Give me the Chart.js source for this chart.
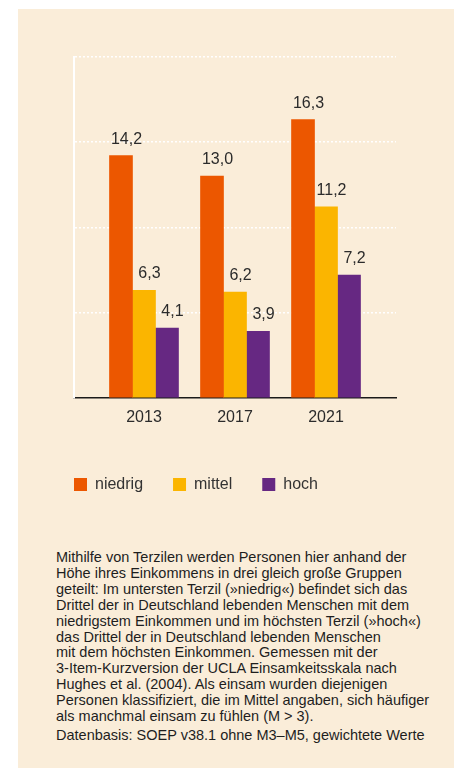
<!DOCTYPE html>
<html lang="de">
<head>
<meta charset="UTF-8">
<title>Einsamkeit nach Einkommensterzil</title>
<script src="https://cdn.jsdelivr.net/npm/chart.js"></script>
<style>
  html, body { margin: 0; padding: 0; background: #ffffff; }
  body { width: 454px; height: 768px; position: relative; overflow: hidden; font-family: "Liberation Sans", Arial, sans-serif; }
  #panel { position: absolute; left: 18px; top: 9px; right: 0; bottom: 0; background: #faedd9; }
  #wrap { position: absolute; left: 0; top: 0; width: 454px; height: 520px; }
  #note { position: absolute; left: 56px; top: 550px; font-size: 14.5px; line-height: 15.9px; color: #1e1e1e; white-space: nowrap; }
  #note p { margin: 0; }
  #note p + p { margin-top: 3px; }
</style>
</head>
<body>
<div id="panel"></div>
<div id="wrap"><canvas id="chart" width="454" height="520"></canvas></div>
<div id="note">
  <p>Mithilfe von Terzilen werden Personen hier anhand der<br>
  Höhe ihres Einkommens in drei gleich große Gruppen<br>
  geteilt: Im untersten Terzil (»niedrig«) befindet sich das<br>
  Drittel der in Deutschland lebenden Menschen mit dem<br>
  niedrigstem Einkommen und im höchsten Terzil (»hoch«)<br>
  das Drittel der in Deutschland lebenden Menschen<br>
  mit dem höchsten Einkommen. Gemessen mit der<br>
  3-Item-Kurzversion der UCLA Einsamkeitsskala nach<br>
  Hughes et al. (2004). Als einsam wurden diejenigen<br>
  Personen klassifiziert, die im Mittel angaben, sich häufiger<br>
  als manchmal einsam zu fühlen (M &gt; 3).</p>
  <p>Datenbasis: SOEP v38.1 ohne M3–M5, gewichtete Werte</p>
</div>
<script>
// Anteil Einsamer (%) je Einkommensterzil
const years = ['2013', '2017', '2021'];
const niedrig = [14.2, 13.0, 16.3];
const mittel = [6.3, 6.2, 11.2];
const hoch = [4.1, 3.9, 7.2];
const yTicks = [0, 5, 10, 15, 20];

const toPoints = arr => arr.map((v, i) => ({ x: i, y: v }));
const fmt = v => v.toFixed(1).replace('.', ',');

Chart.defaults.font.family = '"Liberation Sans", Arial, sans-serif';
Chart.defaults.font.size = 16;
Chart.defaults.color = '#2b2b2b';

// Werte über den Balken
const valueLabels = {
  id: 'valueLabels',
  afterDatasetsDraw(chart) {
    const ctx = chart.ctx;
    ctx.save();
    ctx.font = '16px "Liberation Sans", Arial, sans-serif';
    ctx.fillStyle = '#2b2b2b';
    ctx.textAlign = 'center';
    ctx.textBaseline = 'alphabetic';
    chart.data.datasets.forEach((ds, di) => {
      chart.getDatasetMeta(di).data.forEach((bar, i) => {
        ctx.fillText(fmt(ds.data[i].y), bar.x + 5.5, bar.y - 12);
      });
    });
    ctx.restore();
  }
};

new Chart(document.getElementById('chart'), {
  type: 'bar',
  data: {
    datasets: [
      { label: 'niedrig', data: toPoints(niedrig), backgroundColor: '#ec5700' },
      { label: 'mittel', data: toPoints(mittel), backgroundColor: '#fbb500' },
      { label: 'hoch', data: toPoints(hoch), backgroundColor: '#662882' }
    ]
  },
  options: {
    responsive: false,
    animation: false,
    barThickness: 23,
    layout: { padding: { top: 56.5, left: 44, right: 58, bottom: 17.5 } },
    plugins: {
      tooltip: { enabled: false },
      legend: {
        position: 'bottom',
        align: 'start',
        labels: { boxWidth: 13, boxHeight: 13, padding: 30, color: '#333333', font: { size: 16 } }
      }
    },
    scales: {
      x: {
        type: 'linear',
        offset: false,
        min: -0.769,
        max: 2.769,
        afterBuildTicks: s => { s.ticks = years.map((_, i) => ({ value: i })); },
        afterFit: s => { s.height = 48.5; },
        grid: { display: false, drawTicks: false, offset: false },
        border: { display: true, color: '#1a1a1a', width: 1.4 },
        ticks: { padding: 10, color: '#2b2b2b', callback: v => years[v] }
      },
      y: {
        min: 0,
        max: 20,
        afterBuildTicks: s => { s.ticks = yTicks.map(v => ({ value: v })); },
        afterFit: s => { s.width = 30; },
        grid: {
          drawTicks: false,
          color: c => (c.tick && c.tick.value === 0 ? 'rgba(0,0,0,0)' : '#ffffff'),
          lineWidth: 1.5
        },
        // dash gilt in v4 für die Gitterlinien, die Achsenlinie bleibt durchgezogen
        border: { display: true, color: '#ffffff', width: 2, dash: [2, 2] },
        ticks: { display: false }
      }
    }
  },
  plugins: [valueLabels]
});
</script>
</body>
</html>
